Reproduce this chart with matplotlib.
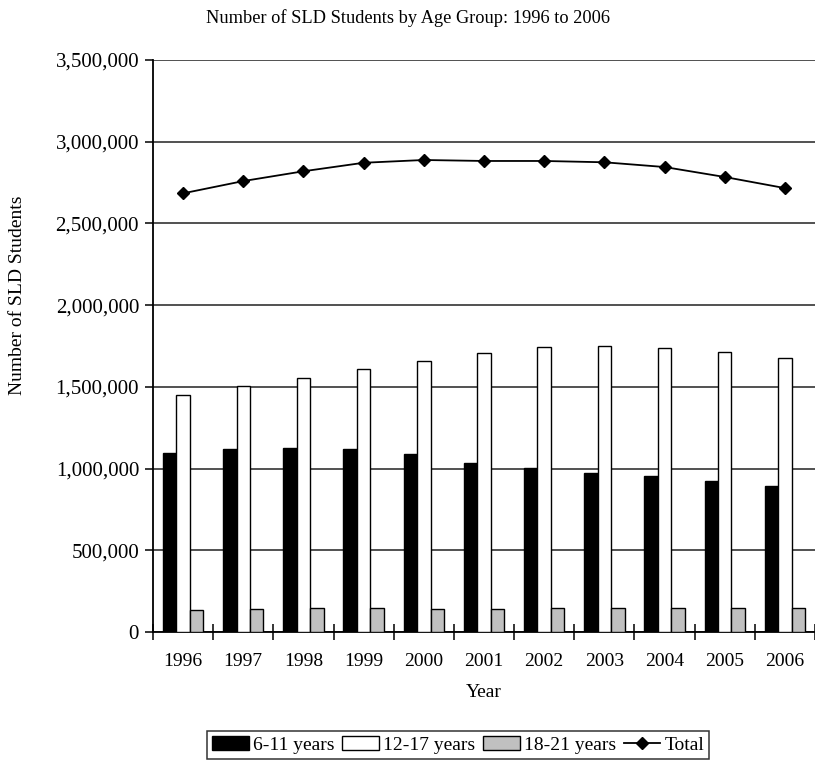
import numpy as np
import matplotlib.pyplot as plt
from matplotlib.ticker import FuncFormatter, FixedLocator

plt.rcParams['font.family'] = ['Liberation Serif', 'DejaVu Serif']

years = ['1996', '1997', '1998', '1999', '2000', '2001',
         '2002', '2003', '2004', '2005', '2006']

# students with specific learning disabilities, by age group
age_6_11 = [1097000, 1117000, 1123000, 1117000, 1088000, 1037000,
            1002000, 974000, 953000, 923000, 892000]
age_12_17 = [1450000, 1505000, 1554000, 1609000, 1656000, 1705000,
             1746000, 1752000, 1740000, 1713000, 1675000]
age_18_21 = [135000, 141000, 145000, 145000, 138000, 141000,
             145000, 145000, 148000, 148000, 148000]
total = [2684000, 2759000, 2819000, 2871000, 2888000, 2882000,
         2882000, 2874000, 2845000, 2784000, 2716000]

fig = plt.figure(figsize=(8.15, 7.64), dpi=100)
ax = fig.add_axes([0.1877, 0.1728, 0.8123, 0.7487])

x = np.arange(len(years))
w = 0.224
b1 = ax.bar(x - w, age_6_11, w, color='black', edgecolor='black', lw=1, label='6-11 years', zorder=3)
b2 = ax.bar(x, age_12_17, w, color='white', edgecolor='black', lw=1, label='12-17 years', zorder=3)
b3 = ax.bar(x + w, age_18_21, w, color='#c0c0c0', edgecolor='black', lw=1, label='18-21 years', zorder=3)
ln, = ax.plot(x, total, color='black', lw=1.3, marker='D', ms=6, label='Total', zorder=4)

ax.set_xlim(-0.5, len(years) - 0.5)
ax.set_ylim(0, 3500000)
ax.set_yticks(np.arange(0, 3500001, 500000))
ax.yaxis.set_major_formatter(FuncFormatter(lambda v, p: f'{int(v):,}'))
ax.grid(axis='y', color='#222222', lw=1.1, zorder=0)

# year labels sit in the middle, ticks mark the group boundaries
ax.set_xticks(x)
ax.set_xticklabels(years)
ax.tick_params(axis='x', which='major', length=0, labelsize=14, pad=15)
ax.xaxis.set_minor_locator(FixedLocator(np.arange(-0.5, len(years), 1)))
ax.tick_params(axis='x', which='minor', length=12, direction='inout', width=1.1)
ax.tick_params(axis='y', length=6, width=1.1, labelsize=15, pad=4)

for s in ['top', 'right']:
    ax.spines[s].set_visible(False)
for s in ['left', 'bottom']:
    ax.spines[s].set_linewidth(1.3)

ax.set_xlabel('Year', fontsize=14, labelpad=10)
fig.text(18 / 815, 1 - 295 / 764, 'Number of SLD Students', rotation=90,
         ha='center', va='center', fontsize=14)
fig.text(0.5, 0.976, 'Number of SLD Students by Age Group: 1996 to 2006',
         ha='center', va='center', fontsize=13.2)

leg = fig.legend([b1, b2, b3, ln], ['6-11 years', '12-17 years', '18-21 years', 'Total'],
                 loc='center', bbox_to_anchor=(0.562, 0.025), ncol=4, fontsize=14,
                 frameon=True, fancybox=False, edgecolor='black',
                 handlelength=1.9, handletextpad=0.2, columnspacing=0.4,
                 borderpad=0.25, borderaxespad=0)
leg.get_frame().set_linewidth(1.1)

fig.savefig('out.png', dpi=100)
